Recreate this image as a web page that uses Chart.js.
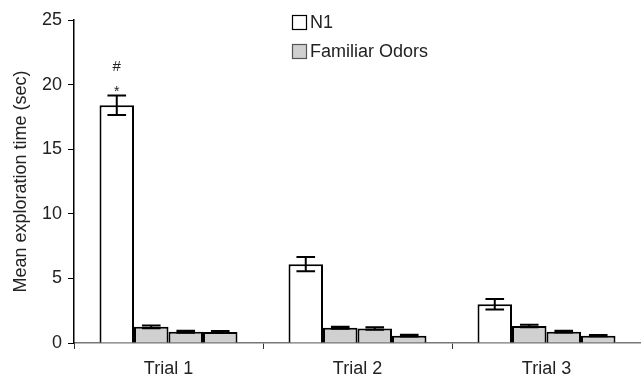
<!DOCTYPE html>
<html>
<head>
<meta charset="utf-8">
<script src="https://cdn.jsdelivr.net/npm/chart.js@4.4.1/dist/chart.umd.min.js"></script>
<style>
html,body{margin:0;padding:0;background:#fff;}
#wrap{width:641px;height:379px;}
</style>
</head>
<body>
<div id="wrap"><canvas id="c" width="641" height="379"></canvas></div>
<script>
const categories = ['Trial 1', 'Trial 2', 'Trial 3'];
const n1 = [18.4, 6.1, 3.0];
const n1Err = [0.75, 0.55, 0.4];
const fam1 = [1.25, 1.18, 1.32];
const fam1Err = [0.1, 0.08, 0.1];
const fam2 = [0.87, 1.12, 0.88];
const fam2Err = [0.07, 0.1, 0.06];
const fam3 = [0.85, 0.57, 0.57];
const fam3Err = [0.07, 0.06, 0.05];
const yTicks = [0, 5, 10, 15, 20, 25];
const legendLabels = ['N1', 'Familiar Odors'];
const markHash = '#';
const markStar = '*';

const FONT = '"Liberation Sans", Arial, sans-serif';
const GREY = '#d0d0d0';

const errSets = [n1Err, fam1Err, fam2Err, fam3Err];

const errorBarPlugin = {
  id: 'errorBars',
  afterDatasetsDraw(chart) {
    const ctx = chart.ctx;
    const y = chart.scales.y;
    ctx.save();
    ctx.strokeStyle = '#000';
    ctx.lineWidth = 2;
    chart.data.datasets.forEach((ds, di) => {
      const meta = chart.getDatasetMeta(di);
      meta.data.forEach((bar, i) => {
        const v = ds.data[i];
        const e = errSets[di][i];
        const yt = y.getPixelForValue(v + e);
        const yb = y.getPixelForValue(v - e);
        const half = bar.width * 0.27;
        ctx.beginPath();
        ctx.moveTo(bar.x, yt); ctx.lineTo(bar.x, yb);
        ctx.moveTo(bar.x - half, yt); ctx.lineTo(bar.x + half, yt);
        ctx.moveTo(bar.x - half, yb); ctx.lineTo(bar.x + half, yb);
        ctx.stroke();
      });
    });
    // significance marks above first N1 bar
    const meta0 = chart.getDatasetMeta(0);
    const b = meta0.data[0];
    const top = y.getPixelForValue(n1[0] + n1Err[0]);
    ctx.fillStyle = '#222';
    ctx.textAlign = 'center';
    ctx.textBaseline = 'alphabetic';
    ctx.font = '14px ' + FONT;
    ctx.fillText(markStar, b.x, top - 0);
    ctx.font = '15px ' + FONT;
    ctx.fillText(markHash, b.x, top - 25);
    ctx.restore();
  }
};

const legendPlugin = {
  id: 'customLegend',
  afterDraw(chart) {
    const ctx = chart.ctx;
    ctx.save();
    const fills = ['#ffffff', GREY];
    const bx = 292, by = [15, 44], size = 14;
    ctx.font = '18px ' + FONT;
    ctx.textBaseline = 'middle';
    ctx.textAlign = 'left';
    legendLabels.forEach((lab, i) => {
      ctx.fillStyle = fills[i];
      ctx.fillRect(bx, by[i], size, size);
      ctx.strokeStyle = i === 0 ? '#000' : '#555';
      ctx.lineWidth = 1.2;
      ctx.strokeRect(bx + 0.5, by[i] + 0.5, size, size);
      ctx.fillStyle = '#222';
      ctx.fillText(lab, bx + size + 4, by[i] + size / 2 + 1);
    });
    ctx.restore();
  }
};

const mk = (label, data, fill) => ({
  label, data,
  backgroundColor: fill,
  borderColor: '#000',
  borderWidth: 2,
  borderSkipped: 'bottom',
  categoryPercentage: 0.73,
  barPercentage: 1.0
});

new Chart(document.getElementById('c'), {
  type: 'bar',
  data: {
    labels: categories,
    datasets: [
      mk('N1', n1, '#ffffff'),
      mk('Familiar Odors', fam1, GREY),
      mk('Familiar Odors', fam2, GREY),
      mk('Familiar Odors', fam3, GREY)
    ]
  },
  options: {
    responsive: false,
    animation: false,
    devicePixelRatio: 1,
    layout: { padding: { top: 20, right: 0, left: 0, bottom: 0 } },
    plugins: { legend: { display: false }, tooltip: { enabled: false } },
    scales: {
      x: {
        offset: true,
        grid: { offset: true, drawOnChartArea: false, drawTicks: true, tickLength: 6, color: '#333', lineWidth: 1 },
        border: { display: true, color: '#777', width: 1.5 },
        ticks: { color: '#222', font: { family: FONT, size: 18 }, padding: 9 },
        afterFit(s) { s.height = 36; }
      },
      y: {
        min: 0, max: 25,
        afterBuildTicks(s) { s.ticks = yTicks.map(v => ({ value: v })); },
        grid: { drawOnChartArea: false, drawTicks: true, tickLength: 6, color: '#000', lineWidth: 1 },
        border: { display: true, color: '#000', width: 1.5 },
        ticks: { color: '#222', font: { family: FONT, size: 18 }, padding: 6 },
        title: { display: true, text: 'Mean exploration time (sec)', color: '#222', font: { family: FONT, size: 18 }, padding: { top: 10, bottom: 0 } },
        afterFit(s) { s.width = 74; }
      }
    }
  },
  plugins: [errorBarPlugin, legendPlugin]
});
</script>
</body>
</html>
